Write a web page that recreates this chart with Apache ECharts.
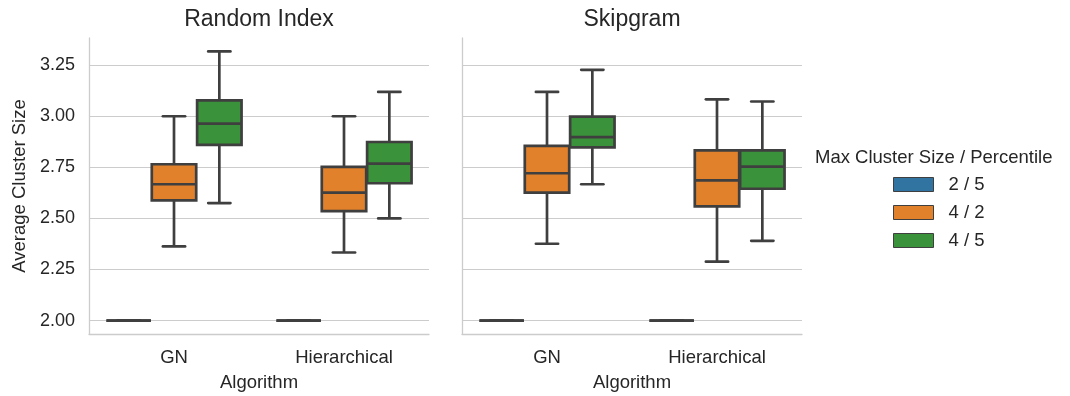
<!DOCTYPE html>
<html><head><meta charset="utf-8">
<script src="https://cdn.jsdelivr.net/npm/echarts@6/dist/echarts.min.js"></script>
<style>html,body{margin:0;padding:0;background:#fff}#c{width:1070px;height:396px}</style>
</head><body><div id="c"></div>
<script>
// ---- data ----
const categories = ['GN', 'Hierarchical'];
const hues = ['2 / 5', '4 / 2', '4 / 5'];
const panels = ['Random Index', 'Skipgram'];
const yTicks = [2.00, 2.25, 2.50, 2.75, 3.00, 3.25];
// each stat: [low whisker, Q1, median, Q3, high whisker] per category
const randomIndex_2_5 = [[2, 2, 2, 2, 2], [2, 2, 2, 2, 2]];
const randomIndex_4_2 = [[2.363, 2.588, 2.667, 2.765, 3.000], [2.333, 2.536, 2.626, 2.752, 3.000]];
const randomIndex_4_5 = [[2.575, 2.860, 2.964, 3.078, 3.317], [2.500, 2.672, 2.768, 2.874, 3.119]];
const skipgram_2_5 = [[2, 2, 2, 2, 2], [2, 2, 2, 2, 2]];
const skipgram_4_2 = [[2.376, 2.626, 2.721, 2.855, 3.119], [2.288, 2.559, 2.686, 2.833, 3.083]];
const skipgram_4_5 = [[2.667, 2.848, 2.898, 2.998, 3.227], [2.390, 2.645, 2.753, 2.833, 3.072]];

const panelData = [
  [randomIndex_2_5, randomIndex_4_2, randomIndex_4_5],
  [skipgram_2_5, skipgram_4_2, skipgram_4_5]
];
const colors = ['#3274a1', '#e1812c', '#3a923a'];
const edge = '#3f3f3f';
const font = "'Liberation Sans', Arial, sans-serif";
const txt = '#262626';
const LW = 2.7;

function makeRender(hueIdx) {
  return function (params, api) {
    const cat = api.value(0);
    const band = api.size([1, 0])[0];
    const slot = band * 0.8 / 3;
    const w = slot * 0.98;
    const cx = api.coord([cat, 0])[0] + (hueIdx - 1) * slot;
    const yLo = api.coord([cat, api.value(1)])[1];
    const yQ1 = api.coord([cat, api.value(2)])[1];
    const yMed = api.coord([cat, api.value(3)])[1];
    const yQ3 = api.coord([cat, api.value(4)])[1];
    const yHi = api.coord([cat, api.value(5)])[1];
    const ls = { stroke: edge, lineWidth: LW, lineCap: 'butt' };
    const rs = Object.assign({}, ls, { lineCap: 'round' });
    return {
      type: 'group',
      children: [
        { type: 'rect', shape: { x: cx - w / 2, y: yQ3, width: w, height: yQ1 - yQ3 },
          style: { fill: colors[hueIdx], stroke: edge, lineWidth: LW } },
        { type: 'line', shape: { x1: cx, y1: yQ1, x2: cx, y2: yLo }, style: ls },
        { type: 'line', shape: { x1: cx, y1: yQ3, x2: cx, y2: yHi }, style: ls },
        { type: 'line', shape: { x1: cx - w / 4, y1: yLo, x2: cx + w / 4, y2: yLo }, style: rs },
        { type: 'line', shape: { x1: cx - w / 4, y1: yHi, x2: cx + w / 4, y2: yHi }, style: rs },
        { type: 'line', shape: { x1: cx - w / 2, y1: yMed, x2: cx + w / 2, y2: yMed }, style: ls }
      ]
    };
  };
}

const grids = [
  { left: 89, width: 340, top: 38, height: 296, outerBoundsMode: 'none', containLabel: false },
  { left: 462, width: 340, top: 38, height: 296, outerBoundsMode: 'none', containLabel: false }
];
const xAxes = [], yAxes = [], series = [];
panels.forEach(function (p, pi) {
  xAxes.push({
    type: 'category', gridIndex: pi, data: categories,
    name: 'Algorithm', nameLocation: 'middle', nameGap: 39,
    nameTextStyle: { fontFamily: font, fontSize: 18.5, color: txt },
    axisLine: { show: true, lineStyle: { color: '#cccccc', width: 1.3 } },
    axisTick: { show: false },
    axisLabel: { fontFamily: font, fontSize: 18.5, color: txt, margin: 14 },
    splitLine: { show: false }
  });
  yAxes.push({
    type: 'value', gridIndex: pi, min: 1.9342, max: 3.3829,
    name: pi === 0 ? 'Average Cluster Size' : '', nameLocation: 'middle', nameGap: 60,
    nameTextStyle: { fontFamily: font, fontSize: 18.5, color: txt },
    axisLine: { show: true, lineStyle: { color: '#cccccc', width: 1.3 } },
    axisTick: { show: false, customValues: yTicks },
    axisLabel: { show: pi === 0, customValues: yTicks, fontFamily: font, fontSize: 18, color: txt, margin: 14,
      formatter: function (v) { return v.toFixed(2); } },
    splitLine: { show: true, lineStyle: { color: '#cccccc', width: 1.1 } }
  });
  hues.forEach(function (h, hi) {
    series.push({
      type: 'custom', name: h, xAxisIndex: pi, yAxisIndex: pi,
      itemStyle: { color: colors[hi] },
      renderItem: makeRender(hi),
      encode: { x: 0, y: [1, 2, 3, 4, 5] },
      data: panelData[pi][hi].map(function (s, ci) { return [ci].concat(s); }),
      z: 3
    });
  });
});

const chart = echarts.init(document.getElementById('c'), null, { renderer: 'canvas' });
chart.setOption({
  animation: false,
  backgroundColor: '#ffffff',
  textStyle: { fontFamily: font },
  grid: grids,
  xAxis: xAxes,
  yAxis: yAxes,
  legend: {
    orient: 'vertical', left: 888, top: 170, itemWidth: 40, itemHeight: 14, itemGap: 9,
    icon: 'rect',
    data: hues.map(function (h, i) {
      return { name: h, itemStyle: { color: colors[i], borderColor: edge, borderWidth: 1 } };
    }),
    textStyle: { fontFamily: font, fontSize: 18.5, color: txt, padding: [0, 0, 0, 10] },
    selectedMode: false
  },
  graphic: [
    { type: 'text', x: 259, y: 20, style: { text: panels[0], font: '23px ' + font, fill: txt, textAlign: 'center', textVerticalAlign: 'middle' } },
    { type: 'text', x: 632, y: 20, style: { text: panels[1], font: '23px ' + font, fill: txt, textAlign: 'center', textVerticalAlign: 'middle' } },
    { type: 'text', left: 815, top: 148, style: { text: 'Max Cluster Size / Percentile', font: '18.5px ' + font, fill: txt } }
  ],
  series: series
});
</script></body></html>
